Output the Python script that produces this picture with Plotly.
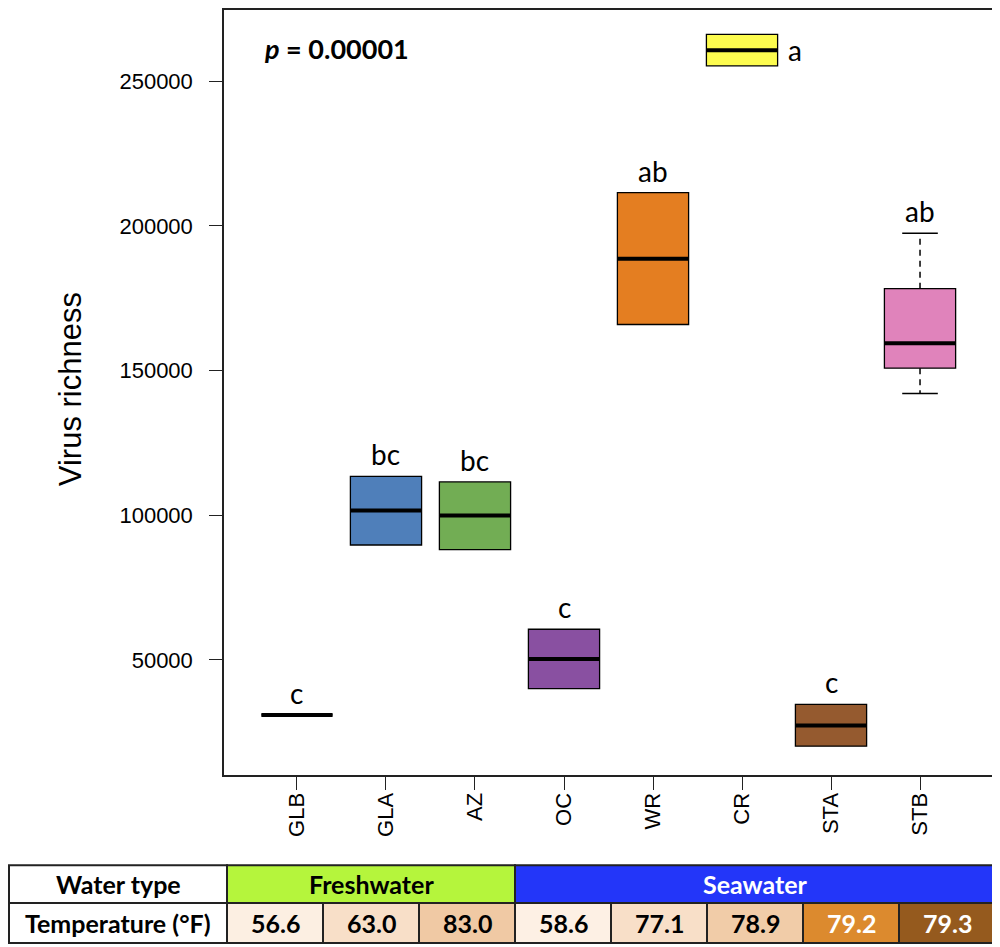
import plotly.graph_objects as go

# box stats
sites = ["GLB", "GLA", "AZ", "OC", "WR", "CR", "STA", "STB"]
q1 = [31000, 89700, 88100, 40100, 165900, 255300, 20200, 150800]
median = [31000, 101600, 99900, 50300, 188600, 260700, 27300, 159400]
q3 = [31000, 113400, 111500, 60600, 211500, 266200, 34600, 178300]
whisker_low = [31000, 89700, 88100, 40100, 165900, 255300, 20200, 142100]
whisker_high = [31000, 113400, 111500, 60600, 211500, 266200, 34600, 197400]
letters = ["c", "bc", "bc", "c", "ab", "a", "c", "ab"]

box_colors = ["#000000", "#4f7fba", "#72ad54", "#8950a1",
              "#e47e21", "#fdfc4f", "#955a2f", "#e083bb"]

# table under the plot
water_type = ["Freshwater", "Freshwater", "Freshwater",
              "Seawater", "Seawater", "Seawater", "Seawater", "Seawater"]
temperature = [56.6, 63.0, 83.0, 58.6, 77.1, 78.9, 79.2, 79.3]

# page has an 8px body margin, so lay out in screen pixels and shift
OFF = 8
W, H = 1000 - OFF, 947 - OFF
xs = list(range(1, len(sites) + 1))


def px(x):
    return (x - OFF) / W


def py(y):
    return 1 - (y - OFF) / H


def note(x, y, text, size, color="black", family="Lato", **kw):
    fig.add_annotation(x=px(x), y=py(y), xref="paper", yref="paper", text=text,
                       showarrow=False, xanchor=kw.pop("xanchor", "center"),
                       yanchor="middle", font=dict(family=family, size=size, color=color), **kw)


fig = go.Figure()

for i, s in enumerate(sites):
    fig.add_trace(
        go.Box(
            x=[xs[i]],
            q1=[q1[i]],
            median=[median[i]],
            q3=[q3[i]],
            lowerfence=[q1[i]],
            upperfence=[q3[i]],
            width=0.8,
            whiskerwidth=0,
            fillcolor=box_colors[i],
            line=dict(color="black", width=1.3),
            hoverinfo="skip",
            showlegend=False,
            name=s,
        )
    )

# whiskers (dashed) where they extend past the box
for i in range(len(sites)):
    for a, b in [(q3[i], whisker_high[i]), (q1[i], whisker_low[i])]:
        if a != b:
            fig.add_trace(go.Scatter(x=[xs[i], xs[i]], y=[a, b], mode="lines",
                                     line=dict(color="black", width=1.5, dash="6px,5px"),
                                     hoverinfo="skip", showlegend=False))
            fig.add_trace(go.Scatter(x=[xs[i] - 0.2, xs[i] + 0.2], y=[b, b], mode="lines",
                                     line=dict(color="black", width=1.5),
                                     hoverinfo="skip", showlegend=False))

# thick medians
mx, my = [], []
for i in range(len(sites)):
    mx += [xs[i] - 0.4, xs[i] + 0.4, None]
    my += [median[i], median[i], None]
fig.add_trace(go.Scatter(x=mx, y=my, mode="lines", line=dict(color="black", width=4),
                         hoverinfo="skip", showlegend=False))

# group letters
for i, s in enumerate(sites):
    if s == "CR":
        fig.add_annotation(x=xs[i] + 0.6, y=median[i], text=letters[i], showarrow=False,
                           font=dict(family="Lato", size=28, color="black"))
    else:
        fig.add_annotation(x=xs[i], y=whisker_high[i], yshift=22, text=letters[i],
                           showarrow=False, font=dict(family="Lato", size=28, color="black"))

note(262, 47, "<b><i>p</i> = 0.00001</b>", 27, xanchor="left")
note(70, 388, "Virus richness", 31, family="Liberation Sans", textangle=-90)

# table
t_top, t_mid, t_bot = 865, 903, 943
t_left, t_lab = 9, 227
cw = (995 - t_lab) / len(temperature)
shapes = []
line_col = "#222222"
tsize = 25


def cell(x0, x1, y0, y1, fill):
    shapes.append(dict(type="rect", xref="paper", yref="paper", x0=px(x0), x1=px(x1),
                       y0=py(y1), y1=py(y0), fillcolor=fill,
                       line=dict(color=line_col, width=2)))


cell(t_left, t_lab, t_top, t_mid, "white")
cell(t_left, t_lab, t_mid, t_bot, "white")
note((t_left + t_lab) / 2, (t_top + t_mid) / 2, "<b>Water type</b>", tsize)
note((t_left + t_lab) / 2, (t_mid + t_bot) / 2, "<b>Temperature (°F)</b>", tsize)

group_style = {"Freshwater": ("#b5f53c", "black"), "Seawater": ("#2336f9", "white")}
start = 0
for j in range(1, len(water_type) + 1):
    if j == len(water_type) or water_type[j] != water_type[start]:
        fill, txt = group_style[water_type[start]]
        x0, x1 = t_lab + start * cw, t_lab + j * cw
        cell(x0, x1, t_top, t_mid, fill)
        note((x0 + x1) / 2, (t_top + t_mid) / 2, "<b>%s</b>" % water_type[start], tsize, txt)
        start = j

temp_fill = ["#fcefe2", "#f8dfc8", "#f0c9a4", "#fdf0e4",
             "#f8dfc8", "#f1cca8", "#dc8a2e", "#955a1e"]
temp_txt = ["black"] * 6 + ["white"] * 2
for j, t in enumerate(temperature):
    x0, x1 = t_lab + j * cw, t_lab + (j + 1) * cw
    cell(x0, x1, t_mid, t_bot, temp_fill[j])
    note((x0 + x1) / 2, (t_mid + t_bot) / 2, "<b>%.1f</b>" % t, tsize, temp_txt[j])

axis_style = dict(
    ticks="outside",
    ticklen=13,
    tickcolor="#222",
    showline=True,
    mirror=True,
    linecolor="#222",
    linewidth=1.5,
    showgrid=False,
    zeroline=False,
    tickfont=dict(family="Liberation Sans", size=22, color="black"),
)

fig.update_layout(
    width=W,
    height=H,
    margin=dict(l=0, r=0, t=0, b=0),
    plot_bgcolor="white",
    paper_bgcolor="white",
    shapes=shapes,
    xaxis=dict(
        domain=[px(224), px(993)],
        range=[0.18, 8.82],
        tickvals=xs,
        ticktext=sites,
        tickangle=-90,
        ticklabelstandoff=-6,
        **axis_style,
    ),
    yaxis=dict(
        # top of the frame sits at the page edge (pixel 8)
        domain=[py(775), 1],
        range=[10100, 274590],
        tickvals=[50000, 100000, 150000, 200000, 250000],
        ticktext=["50000", "100000", "150000", "200000", "250000"],
        ticklabelstandoff=12,
        **axis_style,
    ),
)

fig.write_html("out.html")
